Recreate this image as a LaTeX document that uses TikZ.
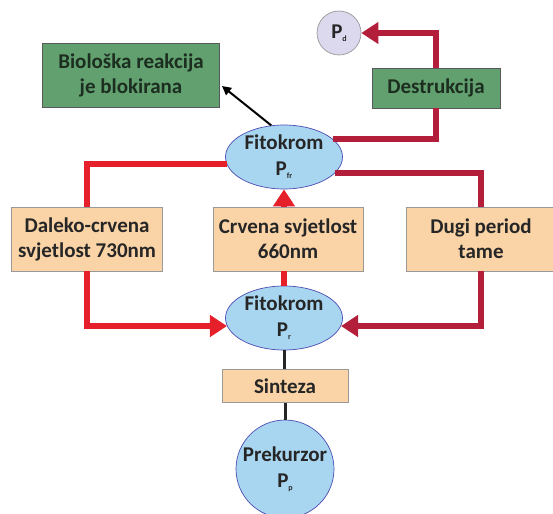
\documentclass[tikz,border=0pt]{standalone}
\usepackage{fontspec}
\setmainfont{Carlito}
\usetikzlibrary{arrows.meta,shapes.geometric}
\definecolor{boxgreen}{HTML}{62A06F}
\definecolor{boxpeach}{HTML}{FAD3A6}
\definecolor{cellblue}{HTML}{A8D6F1}
\definecolor{pdlilac}{HTML}{DCD8EE}
\definecolor{lightred}{HTML}{E5202A}
\definecolor{darkred}{HTML}{B31F3A}
\definecolor{txtdark}{HTML}{262626}
\definecolor{txtgreen}{HTML}{1C2E20}
\newcommand{\subtxt}[1]{\raisebox{-3pt}{\fontsize{8}{8}\selectfont #1}}

\begin{document}
\begin{tikzpicture}[x=1pt, y=-1pt,
  font=\fontsize{21}{25}\selectfont\bfseries, text=txtdark,
  greenbox/.style={draw=gray!70!black, fill=boxgreen, line width=0.7pt, align=center, inner sep=0pt, text=txtgreen},
  peachbox/.style={draw=gray!80, fill=boxpeach, line width=0.7pt, align=center, inner sep=0pt},
  phyto/.style={ellipse, draw=gray!60!blue, fill=cellblue, line width=0.7pt, align=center, inner sep=0pt, minimum width=117, minimum height=64, font=\fontsize{21}{26}\selectfont\bfseries},
  redflow/.style={line width=6pt, lightred},
  darkflow/.style={line width=6pt, darkred},
  bigtip/.style={-{Triangle[length=17pt,width=21pt]}}
]
  \useasboundingbox (0,0) rectangle (553,513);
  % Cvorovi
  \node[circle, draw=gray!80, fill=pdlilac, line width=0.7pt, minimum size=44, inner sep=0pt] (pd) at (339,33) {P\subtxt{d}};
  \node[greenbox, minimum width=177, minimum height=64] (bio) at (131,75) {Biološka reakcija\\je blokirana};
  \node[greenbox, minimum width=128, minimum height=40] (destr) at (436,88) {Destrukcija};
  \node[phyto] (pfr) at (284,157) {Fitokrom\\P\subtxt{fr}};
  \node[peachbox, minimum width=151, minimum height=64] (daleko) at (87,239) {Daleko-crvena\\svjetlost 730nm};
  \node[peachbox, minimum width=150, minimum height=64] (crvena) at (288,239) {Crvena svjetlost\\660nm};
  \node[peachbox, minimum width=150, minimum height=64] (dugi) at (481,239) {Dugi period\\tame};
  \node[phyto] (pr) at (284,318) {Fitokrom\\P\subtxt{r}};
  \node[peachbox, minimum width=126, minimum height=33] (sint) at (285,386) {Sinteza};
  \node[circle, draw=gray!60!blue, fill=cellblue, line width=0.7pt, minimum size=98, inner sep=0pt, align=center, font=\fontsize{21}{26}\selectfont\bfseries] (prek) at (285,469) {Prekurzor\\P\subtxt{p}};
  \coordinate (biotip) at (222,86);
  % Veze prema gore
  \draw[line width=2pt, -{Triangle[length=9pt,width=9pt]}] (pfr.112) -- (biotip);
  \draw[darkflow] (pfr.20) -| (destr.south);
  \draw[darkflow, bigtip] (destr.north) |- (pd.east);
  % Lijevo i desno
  \draw[redflow] (pfr.187) -| (daleko.north);
  \draw[darkflow] (pfr.-18) -| (dugi.north);
  \draw[redflow, bigtip] (daleko.south) |- (pr.188);
  \draw[darkflow, bigtip] (dugi.south) |- (pr.-8);
  % Sredina
  \draw[redflow, bigtip] (crvena.north -| pfr.south) -- (pfr.south);
  \draw[redflow] (pr.north) -- (crvena.south -| pr.north);
  \draw[line width=3pt, txtdark] (pr.south) -- (sint.north -| pr.south);
  \draw[line width=3pt, txtdark] (sint.south) -- (prek.north);
\end{tikzpicture}
\end{document}
